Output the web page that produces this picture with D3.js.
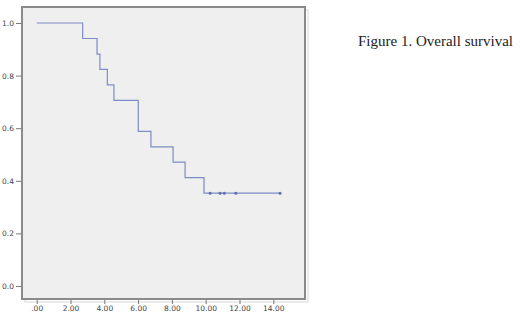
<!DOCTYPE html>
<html>
<head>
<meta charset="utf-8">
<script src="https://cdn.jsdelivr.net/npm/d3@7"></script>
<style>
  body { margin: 0; background: #fff; }
  svg { display: block; }
  .tick text { font-family: "DejaVu Sans", sans-serif; font-size: 7.5px; fill: #444; }
  .tick line { stroke: #777; }
</style>
</head>
<body>
<div id="graph"></div>
<script>
// Kaplan-Meier steps: time of event and survival after it
const eventTimes = [2.72, 3.57, 3.74, 4.18, 4.57, 6.01, 6.76, 8.07, 8.78, 9.9];
const survival = [0.941, 0.882, 0.824, 0.765, 0.706, 0.588, 0.529, 0.471, 0.412, 0.353];
const censorTimes = [10.26, 10.85, 11.1, 11.78, 14.4];
const xTicks = [0, 2, 4, 6, 8, 10, 12, 14];
const yTicks = [0, 0.2, 0.4, 0.6, 0.8, 1.0];
const title = "Figure 1. Overall survival";

const w = 520, h = 318;
const box = { left: 22, top: 7, right: 305, bottom: 299 };

const svg = d3.select("#graph").append("svg").attr("width", w).attr("height", h);

const x = d3.scaleLinear().domain([0, 14]).range([36.7, 273.3]);
const y = d3.scaleLinear().domain([0, 1]).range([286, 23]);

// plot frame
svg.append("rect")
  .attr("x", box.left + 3).attr("y", box.top + 3)
  .attr("width", box.right - box.left).attr("height", box.bottom - box.top)
  .attr("fill", "none").attr("stroke", "#e4e4e4").attr("stroke-width", 1.5);
svg.append("rect")
  .attr("x", box.left).attr("y", box.top)
  .attr("width", box.right - box.left).attr("height", box.bottom - box.top)
  .attr("fill", "#efefef").attr("stroke", "#8a8a8a").attr("stroke-width", 2);

// axes
svg.append("g")
  .attr("transform", `translate(${box.left - 1},0)`)
  .call(d3.axisLeft(y).tickValues(yTicks).tickSize(5).tickPadding(2).tickFormat(d3.format(".1f")))
  .call((g) => g.select(".domain").remove());

svg.append("g")
  .attr("transform", `translate(0,${box.bottom + 1})`)
  .call(d3.axisBottom(x).tickValues(xTicks).tickSize(4).tickPadding(2)
    .tickFormat((d) => (d === 0 ? ".00" : d3.format(".2f")(d))))
  .call((g) => g.select(".domain").remove());

// survival curve
const pts = [[0, 1]];
let s = 1;
eventTimes.forEach((t, i) => {
  pts.push([t, s]);
  s = survival[i];
  pts.push([t, s]);
});
pts.push([d3.max(censorTimes), s]);

svg.append("path")
  .attr("d", d3.line().x((d) => x(d[0])).y((d) => y(d[1]))(pts))
  .attr("fill", "none")
  .attr("stroke", "#7d8cc6")
  .attr("stroke-width", 1.2);

// censor marks
svg.append("g")
  .selectAll("circle")
  .data(censorTimes)
  .enter()
  .append("circle")
  .attr("cx", (d) => x(d))
  .attr("cy", y(s))
  .attr("r", 1.5)
  .attr("fill", "#5f6fae");

svg.append("text")
  .attr("x", 358).attr("y", 46)
  .attr("font-family", "Liberation Serif, serif")
  .attr("font-size", 15)
  .attr("fill", "#222")
  .text(title);
</script>
</body>
</html>
